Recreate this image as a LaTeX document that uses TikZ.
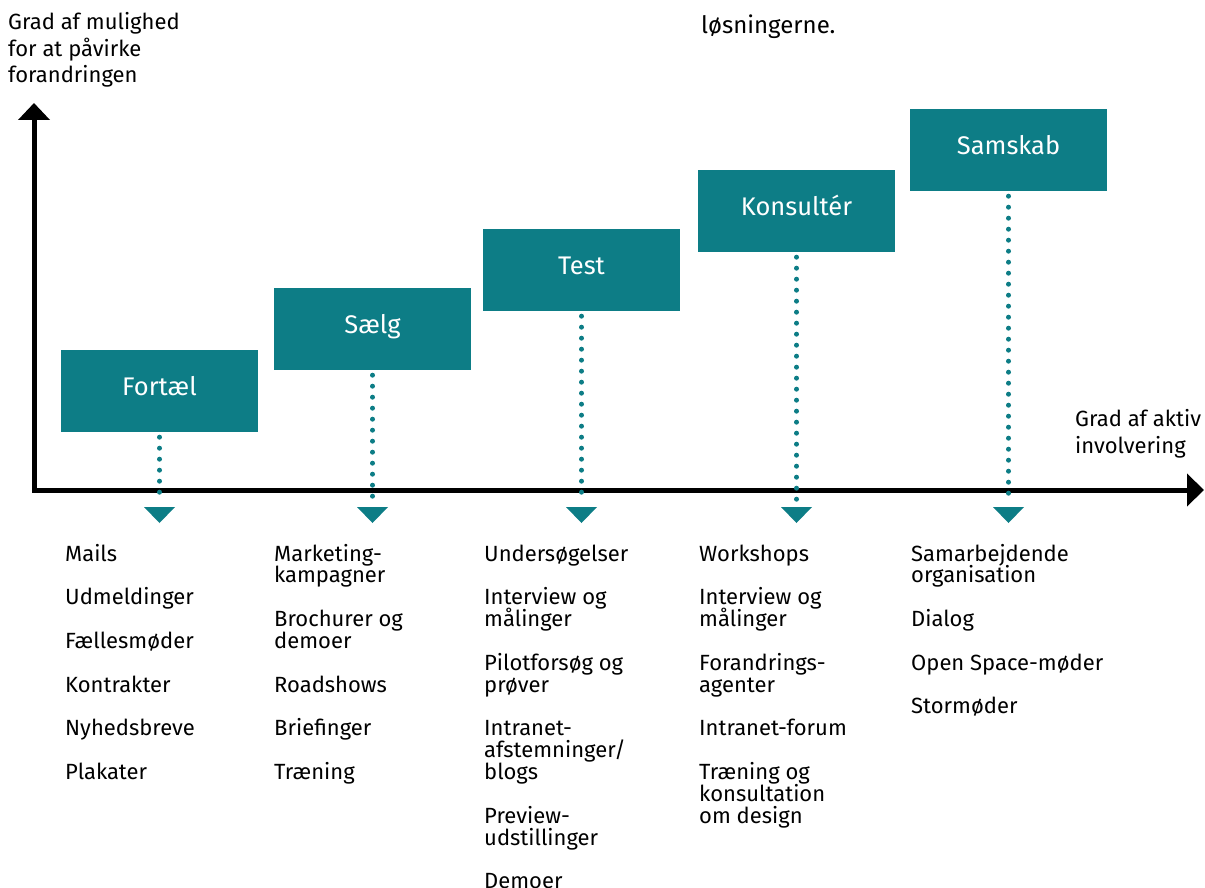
\documentclass[tikz,border=0pt]{standalone}
\usepackage{fontspec}
\setmainfont{Fira Sans}
\usetikzlibrary{arrows.meta}
\definecolor{stagecol}{HTML}{0D7D86}
% lines separated by \\ ; fixed leading given as first argument; baseline = first line
\newcommand\itemlist[2]{\vtop{\baselineskip=#1\lineskiplimit=-\maxdimen\lineskip=0pt
  \let\\\cr\halign{##\hfil\cr#2\crcr}}}
\begin{document}
\begin{tikzpicture}[x=1pt,y=-1pt,
  stage/.style={fill=stagecol, draw=none, minimum width=197pt, minimum height=82pt,
    inner sep=0pt, text=white, font=\fontsize{25.5}{28}\selectfont,
    text height=17.6pt, text depth=8pt},
  items/.style={anchor=base west, inner sep=0pt, font=\fontsize{22}{22}\selectfont},
  axislabel/.style={anchor=base west, inner sep=0pt, font=\fontsize{22}{26.5}\selectfont},
  dots/.style={draw=stagecol, line width=5pt, dash pattern=on 0pt off 11pt,
    line cap=round, shorten <=5pt},
  axis/.style={line width=5pt, line join=miter}
]
\useasboundingbox (0,0) rectangle (1205,888);

% text at the top
\node[axislabel] (ylab) at (8,30) {\itemlist{26.3pt}{Grad af mulighed\\ for at påvirke\\ forandringen}};
\node[axislabel, font=\fontsize{24}{28}\selectfont] (note) at (701,34) {løsningerne.};
\node[axislabel] (xlab) at (1075,426) {\itemlist{27pt}{Grad af aktiv\\ involvering}};

% axes
\coordinate (O) at (34,490);
\coordinate (yT) at (34,103);
\coordinate (xT) at (1204,490);
\draw[axis, {Triangle[length=17pt,width=31pt]}-{Triangle[length=17pt,width=32pt]}]
  (yT) -- (O) -- (xT);

% stages
\node[stage] (s1) at (159.5,391) {Fortæl};
\node[stage] (s2) at (372.5,329) {Sælg};
\node[stage] (s3) at (581.5,270) {Test};
\node[stage] (s4) at (796.5,211) {Konsultér};
\node[stage] (s5) at (1008.5,150) {Samskab};

% triangle markers
\foreach \i/\x in {1/159.5, 2/372.5, 3/581.5, 4/796.5, 5/1008.5} {
  \coordinate (t\i) at (\x,507);
  \draw[dots] (s\i.south) -- ([yshift=5pt]t\i);
  \fill[stagecol] ([xshift=-15.5pt]t\i) -- ([xshift=15.5pt]t\i) -- ([yshift=-16pt]t\i) -- cycle;
}

% lists
\node[items] (l1) at (65,561) {\itemlist{21.85pt}{Mails\\ \\ Udmeldinger\\ \\ Fællesmøder\\ \\
  Kontrakter\\ \\ Nyhedsbreve\\ \\ Plakater}};
\node[items] (l2) at (274,561) {\itemlist{21.85pt}{Marketing-\\ kampagner\\ \\ Brochurer og\\ demoer\\ \\
  Roadshows\\ \\ Briefinger\\ \\ Træning}};
\node[items] (l3) at (484,561) {\itemlist{21.85pt}{Undersøgelser\\ \\ Interview og\\ målinger\\ \\
  Pilotforsøg og\\ prøver\\ \\ Intranet-\\ afstemninger/\\ blogs\\ \\ Preview-\\ udstillinger\\ \\ Demoer}};
\node[items] (l4) at (699,561) {\itemlist{21.85pt}{Workshops\\ \\ Interview og\\ målinger\\ \\
  Forandrings-\\ agenter\\ \\ Intranet-forum\\ \\ Træning og\\ konsultation\\ om design}};
\node[items] (l5) at (911,561) {\itemlist{21.85pt}{Samarbejdende\\ organisation\\ \\ Dialog\\ \\
  Open Space-møder\\ \\ Stormøder}};
\end{tikzpicture}
\end{document}
